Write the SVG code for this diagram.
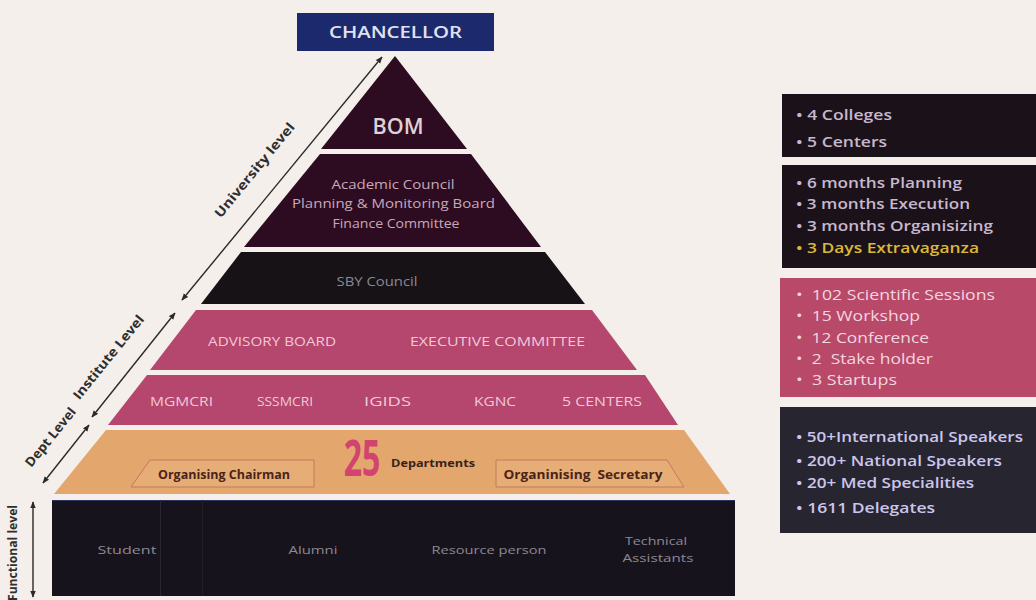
<svg xmlns="http://www.w3.org/2000/svg" width="1036" height="600" viewBox="0 0 1036 600">
<defs>
<marker id="ah" viewBox="0 0 10 10" refX="9" refY="5" markerWidth="7" markerHeight="7" orient="auto-start-reverse" markerUnits="userSpaceOnUse">
<path d="M0,1 L10,5 L0,9 Z" fill="#2a2a2a"/>
</marker>
<style>
text{font-family:"Open Sans","Noto Sans","DejaVu Sans",sans-serif}
.lvl{font-size:13px;font-weight:700;fill:#2e2e2e}
.arr{stroke:#2a2a2a;stroke-width:1.4;fill:none;marker-start:url(#ah);marker-end:url(#ah)}
.maroon{fill:#2d0c21}
.pink{fill:#b5466d}
.acad{font-size:12.5px;fill:#c8a8ba;text-anchor:middle}
.pk{font-size:12.5px;fill:#efc9d9;text-anchor:middle}
.bt{font-size:11px;fill:#8d8993;text-anchor:middle}
.org{font-size:12.5px;font-weight:700;fill:#4a2418;text-anchor:middle}
.obox{fill:#e6ae76;stroke:#c27a5c;stroke-width:1}
.p{font-size:14px;font-weight:600}
.pl{fill:#c8b8cf}
.py{fill:#dcb83a}
.pp{fill:#f3d6e0;font-weight:400}
.pb{fill:#cbc6ee}
</style>
</defs>
<rect width="1036" height="600" fill="#f4efeb"/>

<g id="connectors">
<line class="arr" x1="182" y1="300" x2="382" y2="57"/>
<line class="arr" x1="92" y1="417" x2="175" y2="313"/>
<line class="arr" x1="43" y1="483" x2="89" y2="425"/>
<line class="arr" x1="33" y1="597" x2="33" y2="502"/>
<text class="lvl" transform="translate(258,173) rotate(-50.7)" text-anchor="middle" textLength="118" lengthAdjust="spacingAndGlyphs">University level</text>
<text class="lvl" transform="translate(112,360) rotate(-51)" text-anchor="middle" textLength="104" lengthAdjust="spacingAndGlyphs">Institute Level</text>
<text class="lvl" transform="translate(54,440) rotate(-51)" text-anchor="middle" textLength="72" lengthAdjust="spacingAndGlyphs">Dept Level</text>
<text class="lvl" transform="translate(17,553) rotate(-90)" text-anchor="middle" textLength="96" lengthAdjust="spacingAndGlyphs">Functional level</text>
</g>

<g id="chancellor">
<rect x="297" y="13" width="197" height="38" fill="#1c2a6d"/>
<text x="395.5" y="38" font-size="17" font-weight="600" fill="#e0e2f2" text-anchor="middle" textLength="133" lengthAdjust="spacingAndGlyphs">CHANCELLOR</text>
</g>

<g id="bom">
<polygon class="maroon" points="395,56 467,149 321,149"/>
<text x="398" y="134" font-size="22" font-weight="600" fill="#e0d0d8" text-anchor="middle" textLength="51" lengthAdjust="spacingAndGlyphs">BOM</text>
</g>

<g id="academic">
<polygon class="maroon" points="320,154 471,154 541,247 244,247"/>
<text class="acad" x="393" y="189" textLength="123" lengthAdjust="spacingAndGlyphs">Academic Council</text>
<text class="acad" x="393.5" y="208" textLength="203" lengthAdjust="spacingAndGlyphs">Planning &amp; Monitoring Board</text>
<text class="acad" x="396" y="228" textLength="127" lengthAdjust="spacingAndGlyphs">Finance Committee</text>
</g>

<g id="sby">
<polygon fill="#161216" points="241,252 545,252 585,304 201,304"/>
<text x="377" y="286" font-size="12" fill="#8c8890" text-anchor="middle" textLength="81" lengthAdjust="spacingAndGlyphs">SBY Council</text>
</g>

<g id="institute-board">
<polygon class="pink" points="196,310 592,310 637,370 150,370"/>
<text class="pk" x="272" y="346" textLength="128" lengthAdjust="spacingAndGlyphs">ADVISORY BOARD</text>
<text class="pk" x="497.5" y="346" textLength="175" lengthAdjust="spacingAndGlyphs">EXECUTIVE COMMITTEE</text>
</g>

<g id="institutes">
<polygon class="pink" points="147,375 645,375 678,425 108,425"/>
<text class="pk" x="181.5" y="406" textLength="63" lengthAdjust="spacingAndGlyphs">MGMCRI</text>
<text class="pk" x="285" y="406" textLength="56" lengthAdjust="spacingAndGlyphs">SSSMCRI</text>
<text class="pk" x="387.5" y="406" textLength="47" lengthAdjust="spacingAndGlyphs">IGIDS</text>
<text class="pk" x="495" y="406" textLength="42" lengthAdjust="spacingAndGlyphs">KGNC</text>
<text class="pk" x="602" y="406" textLength="80" lengthAdjust="spacingAndGlyphs">5 CENTERS</text>
</g>

<g id="departments">
<polygon fill="#e3a66c" points="106,430 684,430 730,494 54,494"/>
<polygon class="obox" points="150,460 314,460 314,487 131,487"/>
<text class="org" x="224" y="479" textLength="132" lengthAdjust="spacingAndGlyphs">Organising Chairman</text>
<polygon class="obox" points="496,460 667,460 684,487 496,487"/>
<text class="org" x="583" y="479" textLength="159" lengthAdjust="spacingAndGlyphs" xml:space="preserve">Organinising  Secretary</text>
<text transform="translate(362,476) scale(0.64,1)" font-size="50" font-weight="700" fill="#d0446f" text-anchor="middle">25</text>
<text x="391" y="467" font-size="11" font-weight="700" fill="#3a1e1e" textLength="84" lengthAdjust="spacingAndGlyphs">Departments</text>
</g>

<g id="functional">
<rect x="52" y="500" width="683" height="96" fill="#17131c"/>
<line x1="52" y1="500.5" x2="735" y2="500.5" stroke="#2c3260" stroke-width="1"/>
<line x1="160.5" y1="500" x2="160.5" y2="596" stroke="#2a2530" stroke-width="1"/>
<line x1="202.5" y1="500" x2="202.5" y2="596" stroke="#221e28" stroke-width="1"/>
<text class="bt" x="127" y="554" textLength="59" lengthAdjust="spacingAndGlyphs">Student</text>
<text class="bt" x="313" y="554" textLength="49" lengthAdjust="spacingAndGlyphs">Alumni</text>
<text class="bt" x="489" y="554" textLength="115" lengthAdjust="spacingAndGlyphs">Resource person</text>
<text class="bt" x="656" y="545" textLength="62" lengthAdjust="spacingAndGlyphs">Technical</text>
<text class="bt" x="658" y="562" textLength="71" lengthAdjust="spacingAndGlyphs">Assistants</text>
</g>

<g id="panel-colleges">
<rect x="782" y="94" width="254" height="63" fill="#1b1219"/>
<text class="p pl" x="796" y="120" textLength="96" lengthAdjust="spacingAndGlyphs">• 4 Colleges</text>
<text class="p pl" x="796" y="147" textLength="91" lengthAdjust="spacingAndGlyphs">• 5 Centers</text>
</g>

<g id="panel-timeline">
<rect x="782" y="165" width="254" height="103" fill="#1b1219"/>
<text class="p pl" x="796" y="188" textLength="166" lengthAdjust="spacingAndGlyphs">• 6 months Planning</text>
<text class="p pl" x="796" y="209" textLength="174" lengthAdjust="spacingAndGlyphs">• 3 months Execution</text>
<text class="p pl" x="796" y="231" textLength="197" lengthAdjust="spacingAndGlyphs">• 3 months Organisizing</text>
<text class="p py" x="796" y="253" textLength="183" lengthAdjust="spacingAndGlyphs">• 3 Days Extravaganza</text>
</g>

<g id="panel-sessions">
<rect x="780" y="278" width="256" height="119" fill="#b84968"/>
<text class="p pp" x="796" y="300" textLength="199" lengthAdjust="spacingAndGlyphs" xml:space="preserve">•  102 Scientific Sessions</text>
<text class="p pp" x="796" y="321" textLength="124" lengthAdjust="spacingAndGlyphs" xml:space="preserve">•  15 Workshop</text>
<text class="p pp" x="796" y="343" textLength="133" lengthAdjust="spacingAndGlyphs" xml:space="preserve">•  12 Conference</text>
<text class="p pp" x="796" y="364" textLength="137" lengthAdjust="spacingAndGlyphs" xml:space="preserve">•  2  Stake holder</text>
<text class="p pp" x="796" y="385" textLength="101" lengthAdjust="spacingAndGlyphs" xml:space="preserve">•  3 Startups</text>
</g>

<g id="panel-speakers">
<rect x="780" y="407" width="256" height="126" fill="#27252f"/>
<text class="p pb" x="796" y="442" textLength="227" lengthAdjust="spacingAndGlyphs">• 50+International Speakers</text>
<text class="p pb" x="796" y="466" textLength="206" lengthAdjust="spacingAndGlyphs">• 200+ National Speakers</text>
<text class="p pb" x="796" y="488" textLength="178" lengthAdjust="spacingAndGlyphs">• 20+ Med Specialities</text>
<text class="p pb" x="796" y="513" textLength="139" lengthAdjust="spacingAndGlyphs">• 1611 Delegates</text>
</g>
</svg>
